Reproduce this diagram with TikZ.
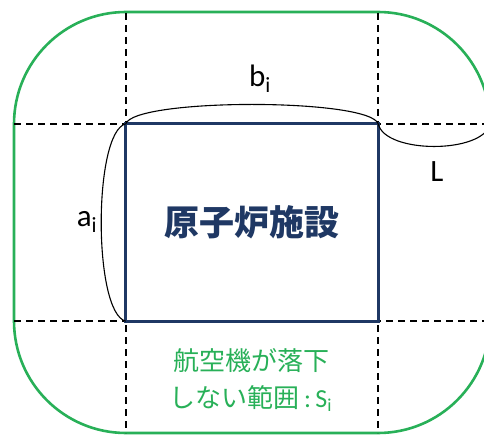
\documentclass[tikz,border=0pt]{standalone}
\usepackage{fontspec}
\setmainfont{Carlito}
\newfontfamily\jp{Noto Sans CJK JP}
\usepackage{tikz}
\usepackage{xcolor}
\definecolor{plantblue}{RGB}{31,56,100}
\definecolor{zonegreen}{RGB}{40,176,88}
\tikzset{
  zone/.style={draw=zonegreen,line width=2.6pt,rounded corners=112pt},
  plantbox/.style={minimum width=252pt,minimum height=197pt,inner sep=0pt},
  plantline/.style={draw=plantblue,line width=3pt},
  guide/.style={dash pattern=on 7pt off 5pt,line width=1.6pt},
  span/.style={line width=1.1pt},
  dimlabel/.style={font=\fontsize{31}{31}\selectfont,inner sep=0pt}
}

\begin{document}
\begin{tikzpicture}[x=1pt,y=-1pt]
\useasboundingbox (0,0) rectangle (484,435);
\draw[zone] (14,12) rectangle (490,433);
\node[plantbox] (plant) at (252,222.5) {};
\coordinate (top) at (0,13);
\coordinate (bottom) at (0,433);
\coordinate (left) at (14,0);
\coordinate (right) at (490,0);
% guide lines through the corners
\draw[guide] (plant.north west |- top) -- (plant.south west |- bottom);
\draw[guide] (plant.north east |- top) -- (plant.south east |- bottom);
\draw[guide] (left |- plant.north west) -- (right |- plant.north east);
\draw[guide] (left |- plant.south west) -- (right |- plant.south east);
\draw[plantline] (plant.north west) rectangle (plant.south east);
\coordinate (Lend) at (490,124);
\draw[span] (plant.north west) .. controls (135,98) and (369,98) .. (plant.north east);
\draw[span] (plant.north east) .. controls (385,154) and (483,154) .. (Lend);
\draw[span] (plant.north west) .. controls (93,132) and (93,313) .. (plant.south west);
\node[dimlabel] (blabel) at (260,79) {b\textsubscript{i}};
\node[dimlabel] (Llabel) at (437,172) {L};
\node[dimlabel] (alabel) at (87,222) {a\textsubscript{i}};
\node[text=plantblue,font=\jp\bfseries\fontsize{35}{35}\selectfont] (title) at (plant) {原子炉施設};
\node[text=zonegreen,align=center,font=\fontsize{26}{37}\selectfont] (area) at (251,380)
  {{\jp 航空機が落下}\\{\jp しない範囲}\,:\,S\textsubscript{i}};
\end{tikzpicture}
\end{document}
